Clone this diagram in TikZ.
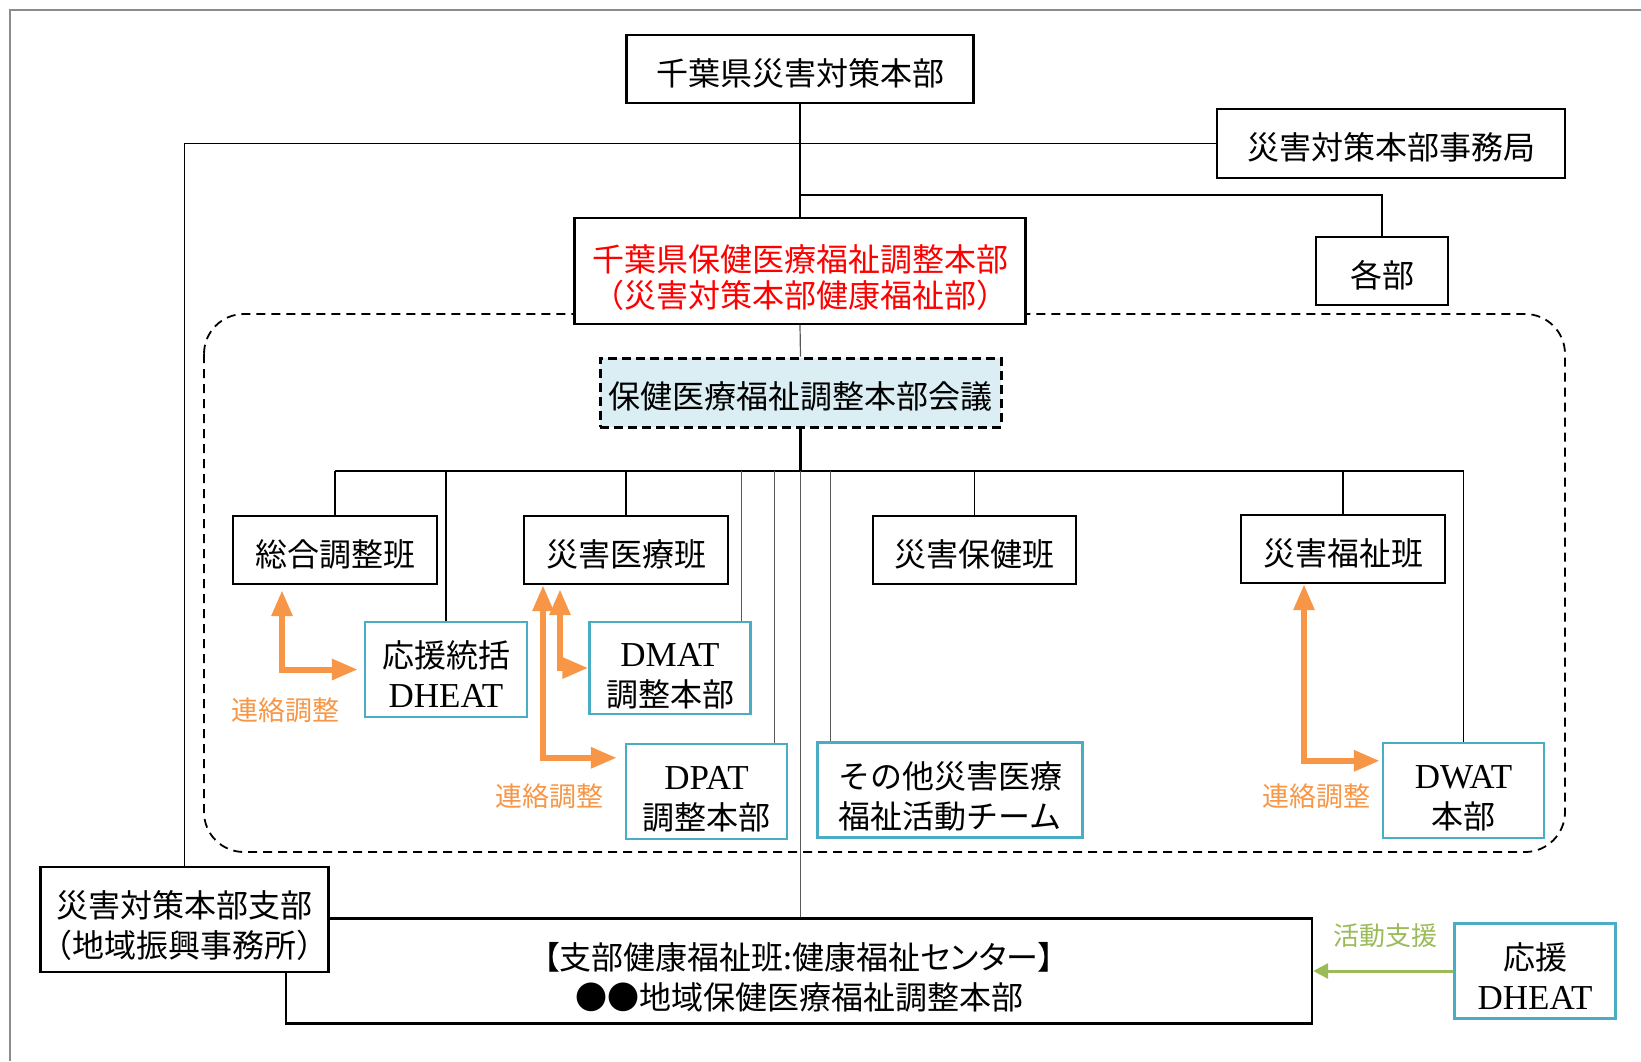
\documentclass[tikz,border=0pt]{standalone}
\usepackage{fontspec}
\setmainfont{Noto Sans CJK JP}
\newfontfamily\serifx{Liberation Serif}
\newfontfamily\jpprop[RawFeature=+palt]{Noto Sans CJK JP}
\usetikzlibrary{arrows.meta,backgrounds,calc}
\definecolor{bluec}{HTML}{4BACC6}
\definecolor{orangec}{HTML}{F79646}
\definecolor{greenc}{HTML}{9BBB59}
\definecolor{meetfill}{HTML}{DAEEF3}
\definecolor{framegray}{HTML}{8C8C8C}
\newcommand\latx[1]{{\serifx\fontsize{35}{39}\selectfont #1}}
\newcommand\topstrutx{\rule{0pt}{40pt}}
\newcommand\botstrutx{\rule[-4pt]{0pt}{4pt}}
\begin{document}
\begin{tikzpicture}[x=1pt,y=-1pt,
  box/.style={draw=black,line width=2.4pt,fill=white,inner sep=0pt,align=center,
    font=\fontsize{32}{40}\selectfont},
  one/.style={execute at begin node={\rule{0pt}{36pt}},
    execute at end node={\rule[-4pt]{0pt}{4pt}}},
  bbox/.style={box,draw=bluec},
  conn/.style={line width=1.6pt,draw=black},
  thinconn/.style={line width=1.2pt,draw=black!65},
  oarrow/.style={draw=orangec,line width=6pt,
    {Triangle[width=20pt,length=26pt]}-{Triangle[width=20pt,length=26pt]}},
  olabel/.style={text=orangec,font=\fontsize{27}{30}\selectfont,inner sep=0pt},
  glabel/.style={text=greenc,font=\fontsize{26}{30}\selectfont,inner sep=0pt},
]
\useasboundingbox (0,0) rectangle (1641,1061);

% nodes
\node[box,one,minimum width=347,minimum height=68] (top) at (800,69) {千葉県災害対策本部};
\node[box,one,minimum width=348,minimum height=69] (jimu) at (1391,143.5) {災害対策本部事務局};
\node[box,one,minimum width=132,minimum height=68] (kakubu) at (1382,271) {各部};
\node[box,minimum width=451,minimum height=106,text=red,font=\fontsize{32}{36}\selectfont] (red) at (800,271)
  {\topstrutx 千葉県保健医療福祉調整本部\\（災害対策本部健康福祉部）\botstrutx};
\node[box,one,fill=meetfill,line width=3pt,dash pattern=on 9pt off 5pt,minimum width=401,minimum height=69] (meet) at (800.5,392.5)
  {保健医療福祉調整本部会議};
\node[box,one,minimum width=204,minimum height=68] (sogo) at (335,550) {総合調整班};
\node[box,one,minimum width=204,minimum height=68] (iryo) at (626,550) {災害医療班};
\node[box,one,minimum width=203,minimum height=68] (hoken) at (974.5,550) {災害保健班};
\node[box,one,minimum width=204,minimum height=68] (fukushi) at (1343,549) {災害福祉班};
\node[bbox,minimum width=162,minimum height=95] (dheat1) at (446,669.5) {\topstrutx 応援統括\\\latx{DHEAT}\botstrutx};
\node[bbox,minimum width=161,minimum height=92] (dmat) at (670,668) {\topstrutx\latx{DMAT}\\調整本部\botstrutx};
\node[bbox,minimum width=161,minimum height=95] (dpat) at (706.5,791.5) {\topstrutx\latx{DPAT}\\調整本部\botstrutx};
\node[bbox,minimum width=265,minimum height=95] (sonota) at (950,790) {\topstrutx その他災害医療\\福祉活動チーム\botstrutx};
\node[bbox,minimum width=161,minimum height=95] (dwat) at (1463.5,790.5) {\topstrutx\latx{DWAT}\\本部\botstrutx};
\node[box,minimum width=1026,minimum height=105] (bottom) at (799,971)
  {\topstrutx{\jpprop 【支部健康福祉班:健康福祉センター】}\\●●地域保健医療福祉調整本部\botstrutx};
\node[box,minimum width=285,minimum height=105] (shibu) at (184.5,919.5)
  {\topstrutx 災害対策本部支部\\（地域振興事務所）\botstrutx};
\node[bbox,minimum width=161,minimum height=95] (dheat2) at (1535,971) {\topstrutx 応援\\\latx{DHEAT}\botstrutx};

\node[olabel] (l1) at (285,710) {連絡調整};
\node[olabel] (l2) at (549,796) {連絡調整};
\node[olabel] (l3) at (1316,796) {連絡調整};
\node[glabel] (l4) at (1385,936) {活動支援};

\begin{pgfonlayer}{background}
  % frame
  \draw[framegray,line width=2.5pt] (10,1061) -- (10,10) -- (1641,10);
  % dashed region
  \draw[line width=1.8pt,dash pattern=on 9pt off 6pt,rounded corners=40pt] (204,314) rectangle (1565,852);
  % top connectors
  \coordinate (busy) at (0,471);
  \coordinate (kky) at (0,195);
  \draw[conn] (top.south) -- (red.north);
  \draw[conn] (jimu.west) -| (shibu.north);
  \draw[conn] (top.south |- kky) -| (kakubu.north);
  \draw[thinconn] (red.south) -- (meet.north);
  \draw[line width=3pt] (meet.south) -- (meet.south |- busy);
  % bus
  \draw[conn] (sogo.north |- busy) -- (dwat.north |- busy);
  \draw[line width=2.8pt] (dheat1.north |- busy) -- (fukushi.north |- busy);
  \draw[conn] (sogo.north) -- (sogo.north |- busy);
  \draw[conn] (dheat1.north) -- (dheat1.north |- busy);
  \draw[conn] (iryo.north) -- (iryo.north |- busy);
  \coordinate (dmT) at ([xshift=-10.5pt]dmat.north east);
  \draw[thinconn] (dmT) -- (dmT |- busy);
  \coordinate (dpT) at ([xshift=-14pt]dpat.north east);
  \draw[thinconn] (dpT) -- (dpT |- busy);
  \draw[thinconn] (meet.south |- busy) -- (bottom.north -| meet.south);
  \coordinate (soT) at ([xshift=14pt]sonota.north west);
  \draw[thinconn] (soT) -- (soT |- busy);
  \draw[conn] (hoken.north) -- (hoken.north |- busy);
  \draw[conn] (fukushi.north) -- (fukushi.north |- busy);
  \draw[conn] (dwat.north) -- (dwat.north |- busy);
\end{pgfonlayer}

% orange arrows
\draw[oarrow,shorten <=5pt,shorten >=6pt] ([xshift=-53pt]sogo.south) |- (dheat1.west);
\draw[oarrow,shorten >=8pt] ([xshift=-83pt]iryo.south) |- ([yshift=-15pt]dpat.north west);
\draw[oarrow,shorten <=4pt] ([xshift=-66pt]iryo.south) |- (dmat.west);
\draw[oarrow,shorten >=2pt] ([xshift=-39pt]fukushi.south) |- ([yshift=-19pt]dwat.north west);
% green arrow
\draw[greenc,line width=3pt,-{Triangle[width=15pt,length=15pt]}] (dheat2.west) -- (bottom.east);
\end{tikzpicture}
\end{document}
